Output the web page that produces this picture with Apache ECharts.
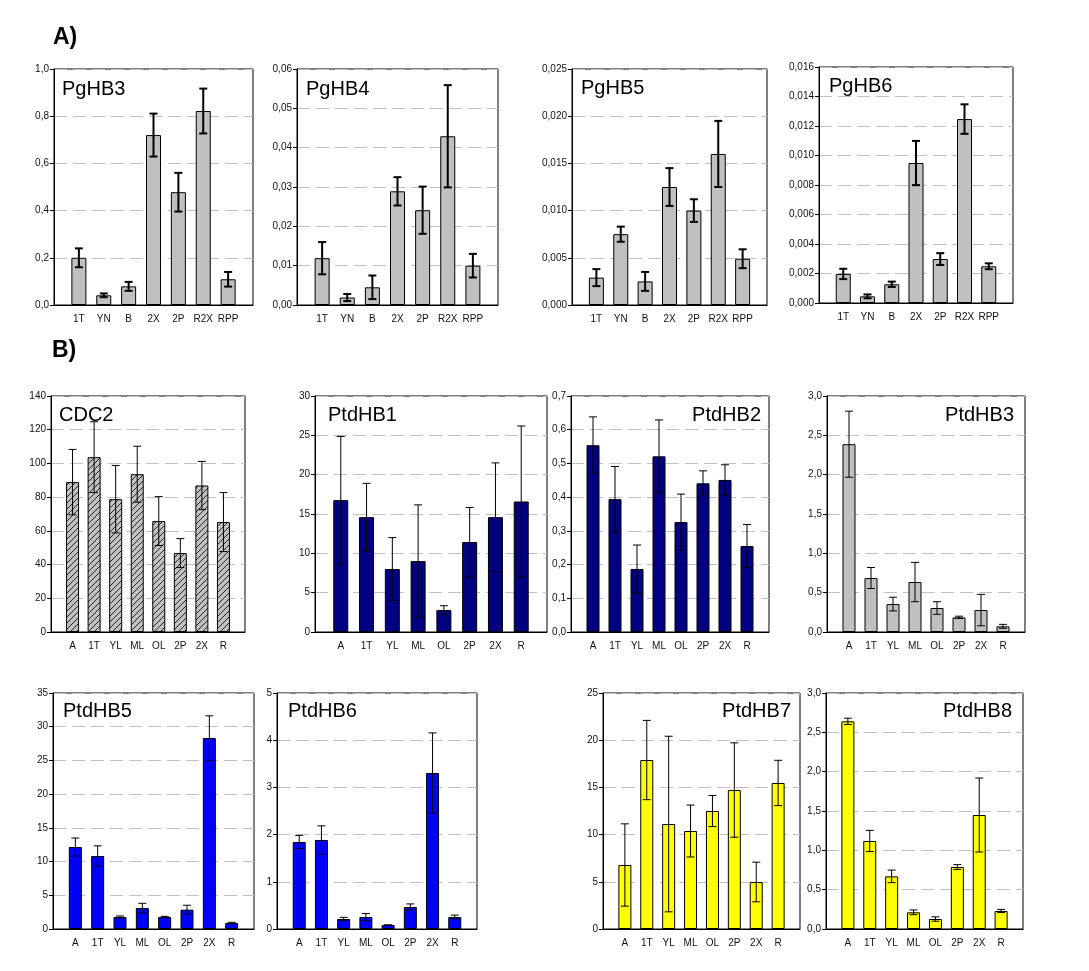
<!DOCTYPE html>
<html>
  <head>
    <meta charset="UTF-8">
    <title>HB expression</title>
    <script src="https://cdn.jsdelivr.net/npm/echarts@6/dist/echarts.min.js"></script>
    <style>
    * {
      margin: 0;
      padding: 0;
    }
    body { background: #fff; }
    </style>
  </head>
  <body>
    <div id="main" style="width: 1089px;height: 971px"></div>

    <script>
// tissue labels
var tissuesA = ['1T', 'YN', 'B', '2X', '2P', 'R2X', 'RPP']
var tissuesB = ['A', '1T', 'YL', 'ML', 'OL', '2P', '2X', 'R']

// A) spruce genes, mean and error
var pgHB3 = [0.20, 0.041, 0.079, 0.72, 0.478, 0.822, 0.109]
var pgHB3Err = [0.04, 0.008, 0.019, 0.091, 0.082, 0.095, 0.031]
var pgHB4 = [0.0119, 0.0019, 0.0045, 0.0289, 0.0241, 0.0429, 0.0100]
var pgHB4Err = [0.0041, 0.0009, 0.0030, 0.0036, 0.0060, 0.0130, 0.0030]
var pgHB5 = [0.0029, 0.0075, 0.0025, 0.0125, 0.0100, 0.0160, 0.0049]
var pgHB5Err = [0.0009, 0.0008, 0.0010, 0.0020, 0.0012, 0.0035, 0.0010]
var pgHB6 = [0.00197, 0.00045, 0.00127, 0.00949, 0.00298, 0.01247, 0.00249]
var pgHB6Err = [0.00035, 0.00013, 0.00018, 0.0015, 0.0004, 0.0010, 0.0002]

// B) pine genes
var cdc2 = [88.9, 103.7, 78.8, 93.6, 65.8, 46.8, 86.9, 65.2]
var cdc2Err = [19.4, 21, 20, 16.6, 14.5, 8.6, 14.3, 17.5]
var ptdHB1 = [16.76, 14.6, 8.0, 9.01, 2.79, 11.43, 14.6, 16.59]
var ptdHB1Err = [8.1, 4.3, 4.0, 7.15, 0.55, 4.4, 6.9, 9.6]
var ptdHB2 = [0.554, 0.394, 0.187, 0.521, 0.326, 0.441, 0.451, 0.255]
var ptdHB2Err = [0.084, 0.097, 0.071, 0.108, 0.083, 0.037, 0.045, 0.064]
var ptdHB3 = [2.387, 0.686, 0.355, 0.635, 0.305, 0.186, 0.279, 0.072]
var ptdHB3Err = [0.42, 0.134, 0.087, 0.25, 0.08, 0.015, 0.2, 0.025]
var ptdHB5 = [12.16, 10.83, 1.78, 3.11, 1.78, 2.87, 28.32, 0.89]
var ptdHB5Err = [1.33, 1.5, 0.15, 0.7, 0.1, 0.65, 3.3, 0.1]
var ptdHB6 = [1.843, 1.886, 0.212, 0.254, 0.085, 0.466, 3.305, 0.254]
var ptdHB6Err = [0.14, 0.3, 0.035, 0.075, 0, 0.065, 0.85, 0.04]
var ptdHB7 = [6.78, 17.9, 11.12, 10.38, 12.5, 14.72, 4.98, 15.47]
var ptdHB7Err = [4.36, 4.2, 9.3, 2.75, 1.65, 5.0, 2.1, 2.4]
var ptdHB8 = [2.64, 1.119, 0.669, 0.212, 0.127, 0.788, 1.449, 0.229]
var ptdHB8Err = [0.04, 0.135, 0.08, 0.03, 0.028, 0.03, 0.47, 0.02]
    </script>

    <script>
// hatched fill for CDC2
function hatch() {
  var c = document.createElement('canvas')
  c.width = 6
  c.height = 6
  var ctx = c.getContext('2d')
  ctx.fillStyle = '#c0c0c0'
  ctx.fillRect(0, 0, 6, 6)
  ctx.strokeStyle = '#000'
  ctx.lineWidth = 0.8
  ctx.beginPath()
  ctx.moveTo(0, 6); ctx.lineTo(6, 0)
  ctx.moveTo(-1, 1); ctx.lineTo(1, -1)
  ctx.moveTo(5, 7); ctx.lineTo(7, 5)
  ctx.stroke()
  return {image: c, repeat: 'repeat'}
}

var GREY = '#c0c0c0', NAVY = '#000080', BLUE = '#0000ff', YELLOW = '#ffff00'

// box = [left, top, width, height]; title x is left edge or (if right) end of text
var panels = [
  {name: 'PgHB3', cats: tissuesA, v: pgHB3, e: pgHB3Err, max: 1, step: 0.2, dig: 1, color: GREY, box: [54, 69, 199, 236], tx: 62, ty: 79, thick: true},
  {name: 'PgHB4', cats: tissuesA, v: pgHB4, e: pgHB4Err, max: 0.06, step: 0.01, dig: 2, color: GREY, box: [297, 69, 201, 236], tx: 306, ty: 79, thick: true},
  {name: 'PgHB5', cats: tissuesA, v: pgHB5, e: pgHB5Err, max: 0.025, step: 0.005, dig: 3, color: GREY, box: [572, 69, 195, 236], tx: 581, ty: 78, thick: true},
  {name: 'PgHB6', cats: tissuesA, v: pgHB6, e: pgHB6Err, max: 0.016, step: 0.002, dig: 3, color: GREY, box: [819, 67, 194, 236], tx: 829, ty: 76, thick: true},
  {name: 'CDC2', cats: tissuesB, v: cdc2, e: cdc2Err, max: 140, step: 20, dig: 0, color: hatch(), box: [51, 396, 194, 236], tx: 59, ty: 405},
  {name: 'PtdHB1', cats: tissuesB, v: ptdHB1, e: ptdHB1Err, max: 30, step: 5, dig: 0, color: NAVY, box: [315, 396, 232, 236], tx: 328, ty: 405},
  {name: 'PtdHB2', cats: tissuesB, v: ptdHB2, e: ptdHB2Err, max: 0.7, step: 0.1, dig: 1, color: NAVY, box: [571, 396, 198, 236], tx: 761, ty: 405, right: true},
  {name: 'PtdHB3', cats: tissuesB, v: ptdHB3, e: ptdHB3Err, max: 3, step: 0.5, dig: 1, color: GREY, box: [827, 396, 198, 236], tx: 1014, ty: 405, right: true},
  {name: 'PtdHB5', cats: tissuesB, v: ptdHB5, e: ptdHB5Err, max: 35, step: 5, dig: 0, color: BLUE, box: [53, 693, 201, 236], tx: 63, ty: 701},
  {name: 'PtdHB6', cats: tissuesB, v: ptdHB6, e: ptdHB6Err, max: 5, step: 1, dig: 0, color: BLUE, box: [277, 693, 200, 236], tx: 288, ty: 701},
  {name: 'PtdHB7', cats: tissuesB, v: ptdHB7, e: ptdHB7Err, max: 25, step: 5, dig: 0, color: YELLOW, box: [603, 693, 197, 236], tx: 791, ty: 701, right: true},
  {name: 'PtdHB8', cats: tissuesB, v: ptdHB8, e: ptdHB8Err, max: 3, step: 0.5, dig: 1, color: YELLOW, box: [826, 693, 197, 236], tx: 1012, ty: 701, right: true}
]

var FONT = 'Liberation Sans'
var option = {
  animation: false,
  backgroundColor: '#fff',
  textStyle: {fontFamily: FONT},
  grid: [], xAxis: [], yAxis: [], series: [], title: [],
  graphic: [
    {type: 'text', left: 53, top: 26, style: {text: 'A)', font: 'bold 23px "Liberation Sans"', fill: '#000'}},
    {type: 'text', left: 52, top: 339, style: {text: 'B)', font: 'bold 23px "Liberation Sans"', fill: '#000'}}
  ]
}

panels.forEach(function (p, k) {
  var n = p.cats.length
  var b = p.box
  // x runs from -1 to n, so one band is width / (n + 1)
  var bw = Math.round(b[2] / (n + 1) * 0.6)
  var lw = p.thick ? 2 : 1
  option.grid.push({
    left: b[0], top: b[1], width: b[2], height: b[3],
    show: true, borderColor: '#000', borderWidth: 1, backgroundColor: '#fff'
  })
  option.xAxis.push({
    type: 'value', gridIndex: k, min: -1, max: n, interval: 1,
    splitLine: {show: false},
    axisTick: {show: false},
    axisLine: {onZero: false, lineStyle: {color: '#000', width: 1}},
    axisLabel: {
      fontSize: 10, color: '#111', margin: 9, fontFamily: FONT,
      formatter: function (x) { return p.cats[x] || '' }
    }
  })
  option.yAxis.push({
    type: 'value', gridIndex: k, min: 0, max: p.max, interval: p.step,
    axisLine: {show: true, onZero: false, lineStyle: {color: '#000', width: 1}},
    axisTick: {show: true, length: 4, lineStyle: {color: '#000'}},
    splitLine: {show: true, lineStyle: {color: '#c0c0c0', width: 1, type: [13, 6]}},
    axisLabel: {
      fontSize: 10, color: '#111', margin: 5, fontFamily: FONT,
      formatter: function (x) { return x.toFixed(p.dig).replace('.', ',') }
    }
  })
  option.series.push({
    type: 'bar', xAxisIndex: k, yAxisIndex: k, barWidth: bw, silent: true,
    data: p.v.map(function (y, i) { return [i, y] }),
    itemStyle: {color: p.color, borderColor: '#000', borderWidth: 1}
  })
  option.series.push({
    type: 'custom', xAxisIndex: k, yAxisIndex: k, silent: true, z: 5,
    data: p.v.map(function (y, i) { return [i, y - p.e[i], y + p.e[i]] }),
    renderItem: function (params, api) {
      var lo = api.coord([api.value(0), api.value(1)])
      var hi = api.coord([api.value(0), api.value(2)])
      var style = {stroke: '#000', lineWidth: lw}
      var c = 4
      return {
        type: 'group',
        children: [
          {type: 'line', shape: {x1: lo[0], y1: lo[1], x2: hi[0], y2: hi[1]}, style: style},
          {type: 'line', shape: {x1: hi[0] - c, y1: hi[1], x2: hi[0] + c, y2: hi[1]}, style: style},
          {type: 'line', shape: {x1: lo[0] - c, y1: lo[1], x2: lo[0] + c, y2: lo[1]}, style: style}
        ]
      }
    }
  })
  var t = {
    text: p.name, top: p.ty, padding: 0,
    textStyle: {fontSize: 20, fontWeight: 'normal', color: '#000', fontFamily: FONT}
  }
  if (p.right) t.right = 1089 - p.tx
  else t.left = p.tx
  option.title.push(t)
})

var myChart = echarts.init(document.getElementById('main'))
myChart.setOption(option)
    </script>
  </body>
</html>
